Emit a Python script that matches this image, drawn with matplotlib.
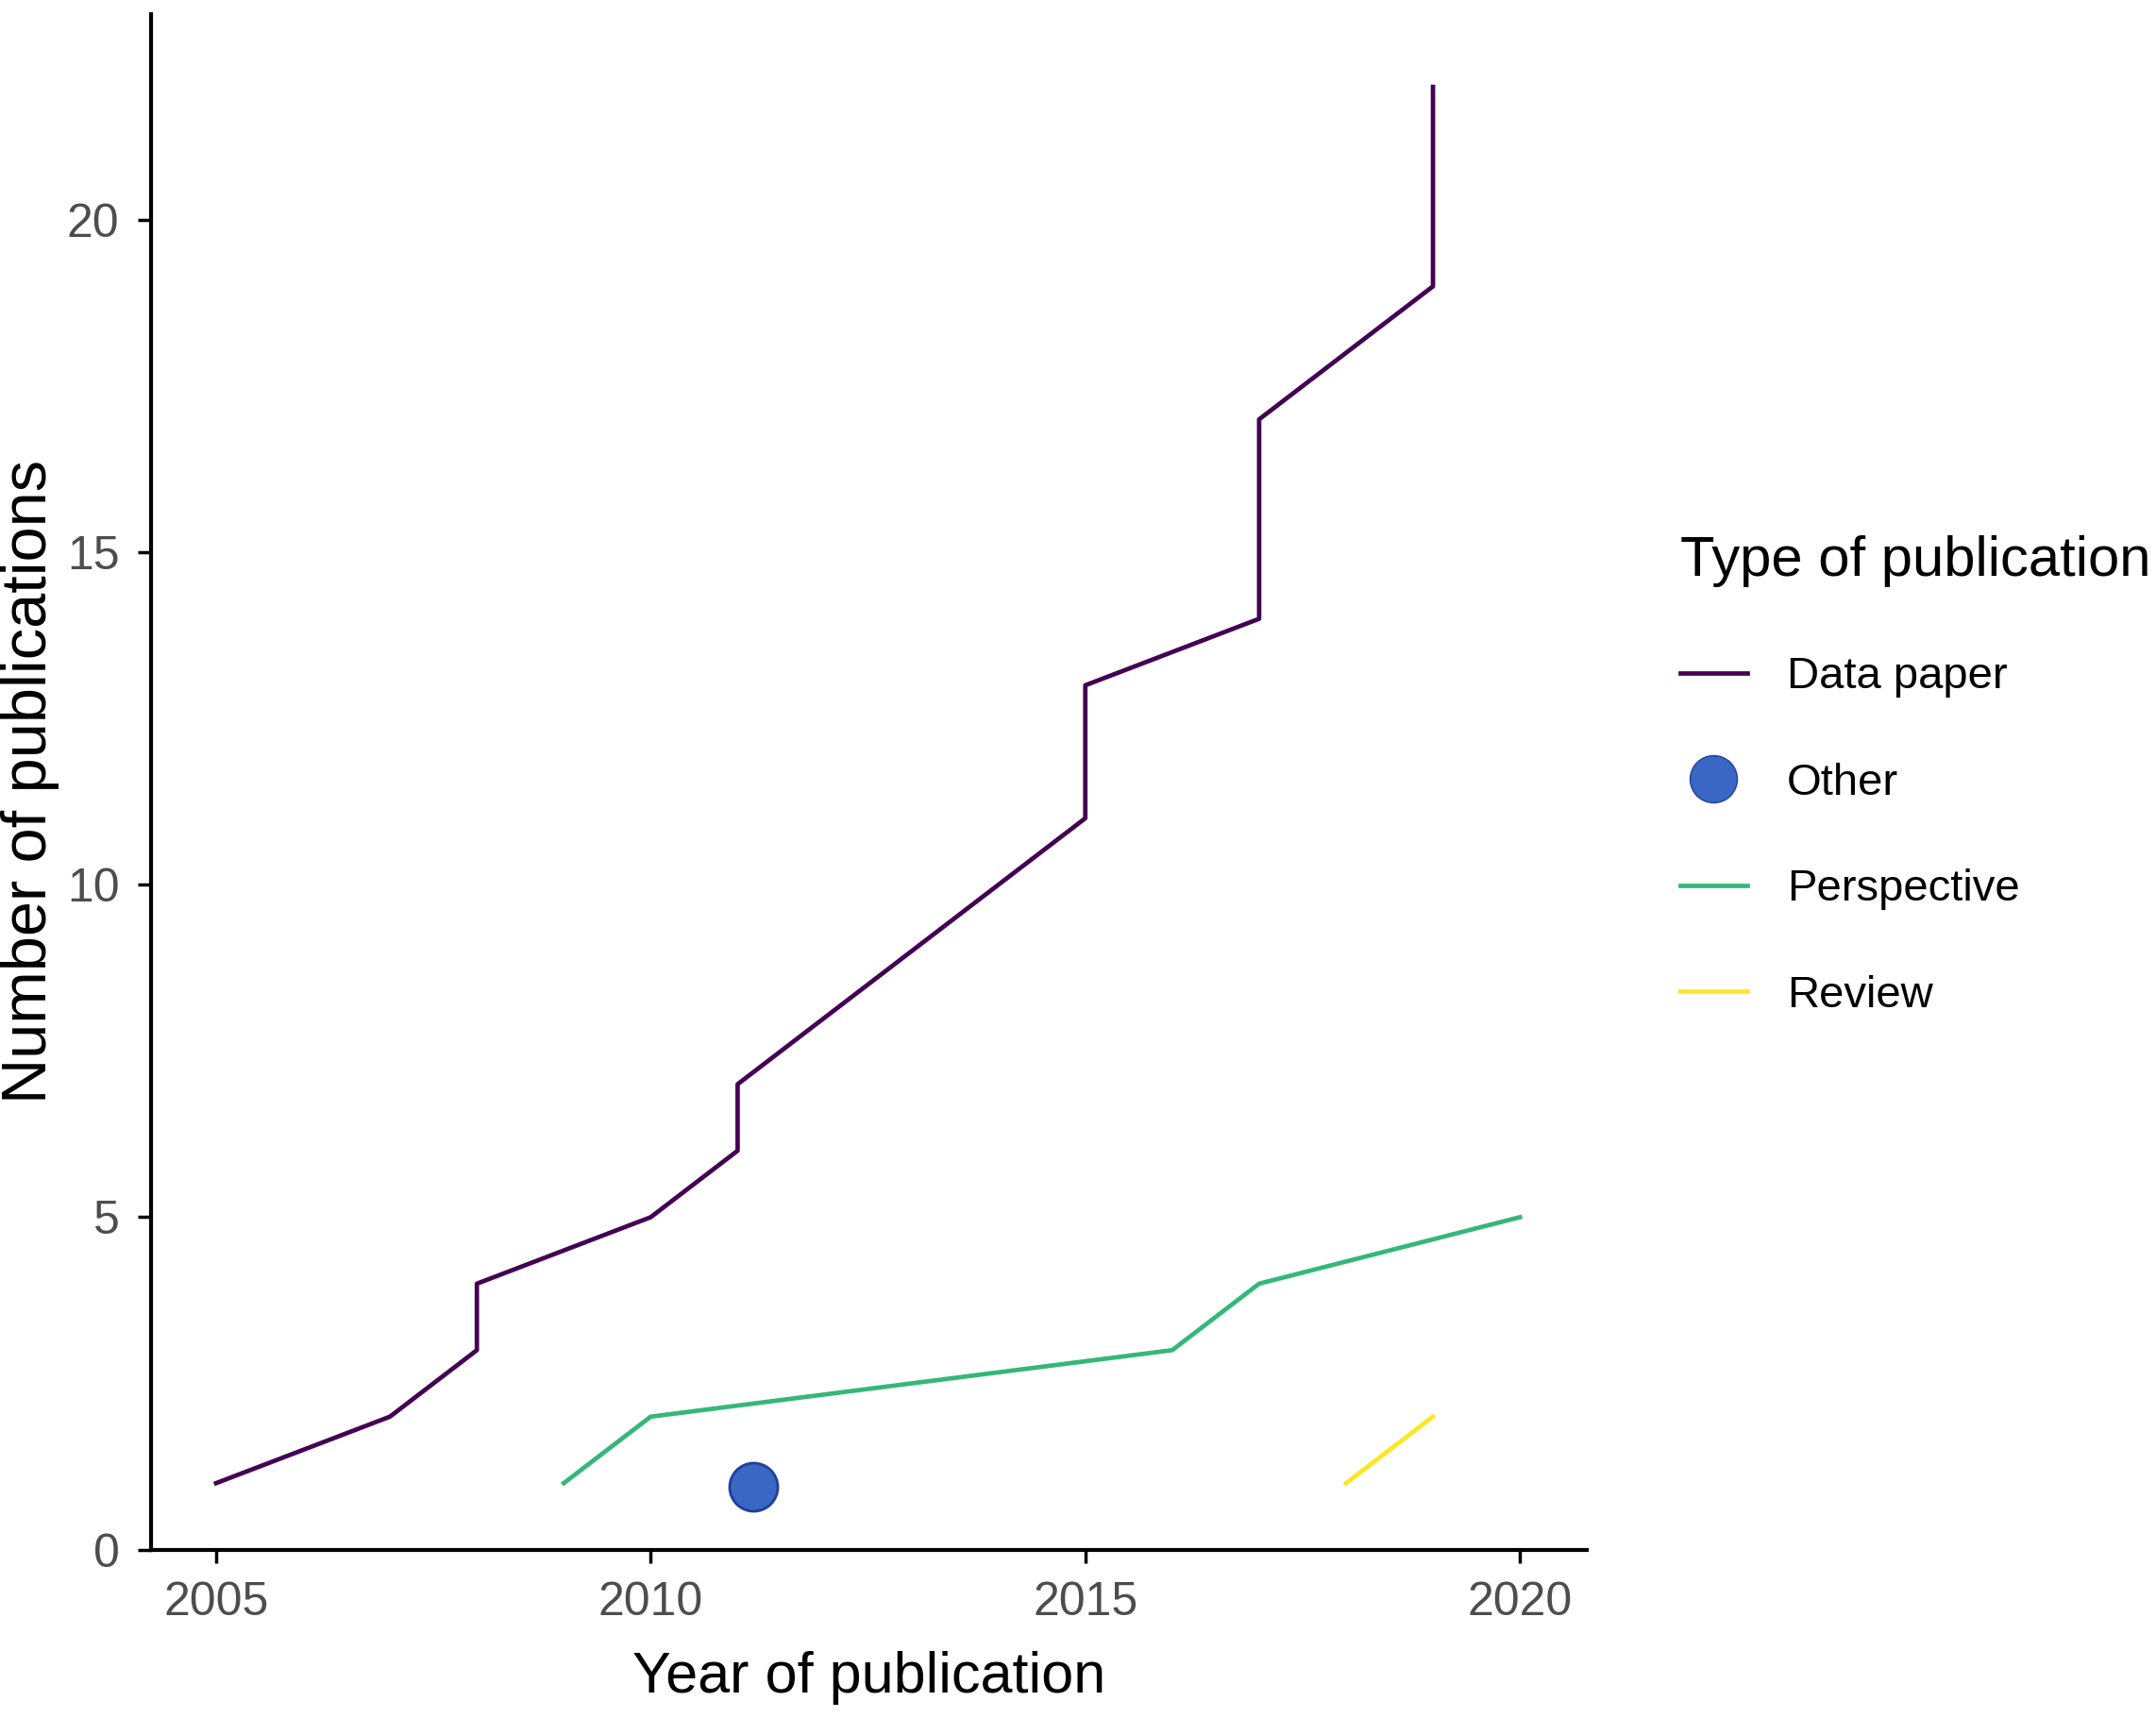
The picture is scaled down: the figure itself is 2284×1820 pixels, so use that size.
import matplotlib.pyplot as plt
from matplotlib.lines import Line2D

# cumulative publications per type
data_years = [2005, 2007, 2008, 2008, 2010, 2011, 2011, 2015, 2015, 2017, 2017, 2019, 2019]
data_counts = [1, 2, 3, 4, 5, 6, 7, 11, 13, 14, 17, 19, 22]
persp_years = [2009, 2010, 2016, 2017, 2020]
persp_counts = [1, 2, 3, 4, 5]
review_years = [2018, 2019]
review_counts = [1, 2]
other_years = [2011.18]
other_counts = [0.95]

x_ticks = [2005, 2010, 2015, 2020]
y_ticks = [0, 5, 10, 15, 20]

plt.rcParams['font.family'] = ['Liberation Sans', 'DejaVu Sans']

fig = plt.figure(figsize=(22.84, 18.2), dpi=100)
ax = fig.add_axes([0.070, 0.098, 0.666, 0.894])

ax.plot(data_years, data_counts, color="#440154", lw=3.4)
ax.plot(persp_years, persp_counts, color="#35B779", lw=3.4)
ax.plot(review_years, review_counts, color="#FDE725", lw=3.4)
ax.scatter(other_years, other_counts, s=1350, color="#3A66C4", edgecolor="#1F3F9A", lw=2, zorder=3)

ax.set_xlim(2004.25, 2020.77)
ax.set_ylim(0, 23.1)
ax.set_xticks(x_ticks)
ax.set_yticks(y_ticks)
ax.tick_params(labelsize=36, labelcolor="#4D4D4D", width=2.5, length=10, pad=14)
for side in ["top", "right"]:
    ax.spines[side].set_visible(False)
for side in ["left", "bottom"]:
    ax.spines[side].set_linewidth(3)

ax.set_xlabel("Year of publication", fontsize=44, labelpad=20)
ax.set_ylabel("Number of publications", fontsize=48, labelpad=6)

handles = [
    Line2D([], [], color="#440154", lw=3.4),
    Line2D([], [], marker="o", ls="", markersize=36, markerfacecolor="#3A66C4", markeredgecolor="#1F3F9A"),
    Line2D([], [], color="#35B779", lw=3.4),
    Line2D([], [], color="#FDE725", lw=3.4),
]
labels = ["Data paper", "Other", "Perspective", "Review"]
leg = fig.legend(handles, labels, title="Type of publication", loc="upper left",
                 bbox_to_anchor=(0.771, 0.699), frameon=False, fontsize=34,
                 title_fontsize=43, handlelength=1.5, labelspacing=1.45,
                 handletextpad=0.9, borderaxespad=0)
leg._legend_box.align = "left"
leg._legend_box.sep = 53

fig.savefig("out.png", dpi=100)
